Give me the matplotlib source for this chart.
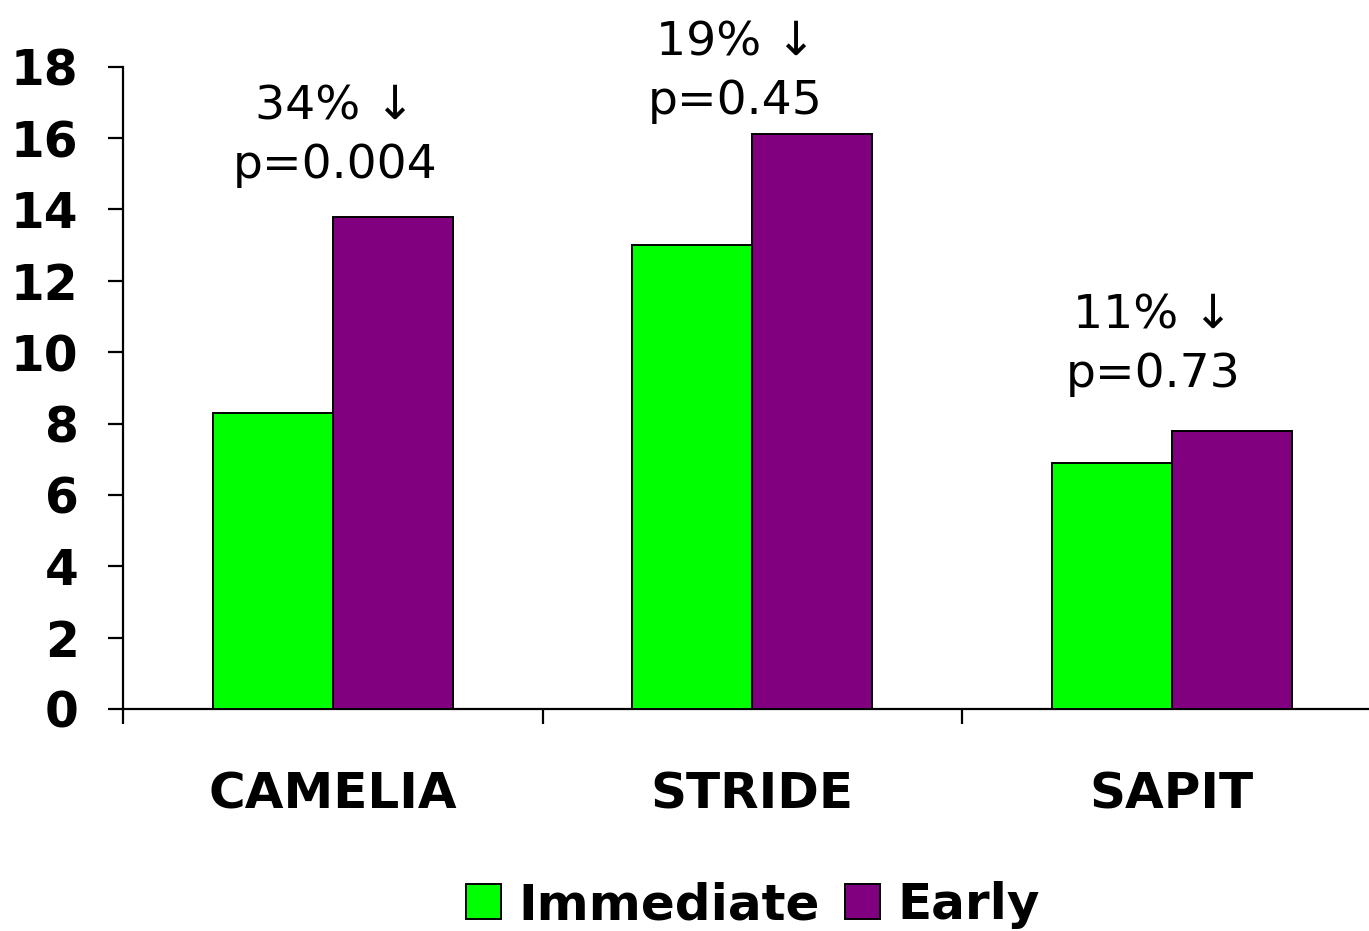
import matplotlib
matplotlib.use("Agg")
import matplotlib.pyplot as plt
import numpy as np

# Trial groups and event rates for each strategy
trials = ["CAMELIA", "STRIDE", "SAPIT"]
immediate = [8.3, 13.0, 6.9]
early = [13.8, 16.1, 7.8]
series_names = ["Immediate", "Early"]

# Relative reduction and p-value shown above each trial
reductions = ["34% \u2193", "19% \u2193", "11% \u2193"]
p_values = ["p=0.004", "p=0.45", "p=0.73"]
note_y = [14.88, 16.67, 9.03]
note_dx = [0.005, -0.04, -0.045]

y_ticks = [0, 2, 4, 6, 8, 10, 12, 14, 16, 18]

GREEN = "#00FF00"
PURPLE = "#800080"

plt.rcParams["font.family"] = ["DejaVu Sans"]

fig = plt.figure(figsize=(13.69, 9.31), dpi=100)
ax = fig.add_axes([123 / 1369, 222 / 931, 1258.5 / 1369, 642.3 / 931])

x = np.arange(len(trials))
w = 0.286
ax.bar(x - w / 2, immediate, width=w, color=GREEN, edgecolor="black",
       linewidth=1.4, label=series_names[0], zorder=3)
ax.bar(x + w / 2, early, width=w, color=PURPLE, edgecolor="black",
       linewidth=1.4, label=series_names[1], zorder=3)

ax.set_xlim(-0.5, len(trials) - 0.5)
ax.set_ylim(0, 18)

for side in ("top", "right"):
    ax.spines[side].set_visible(False)
for side in ("left", "bottom"):
    ax.spines[side].set_linewidth(1.6)

ax.set_yticks(y_ticks)
ax.set_yticklabels([str(t) for t in y_ticks], fontsize=35, fontweight="bold")
ax.tick_params(axis="y", direction="out", length=11, width=1.6, pad=21)

# Boundary ticks between groups, group names as minor labels
ax.set_xticks(np.arange(len(trials) + 1) - 0.5)
ax.set_xticklabels([])
ax.tick_params(axis="x", which="major", direction="out", length=11, width=1.6)
ax.set_xticks(x, minor=True)
ax.set_xticklabels(trials, minor=True, fontsize=36, fontweight="bold")
ax.tick_params(axis="x", which="minor", length=0, pad=44)

for xi, dx, yv, r, p in zip(x, note_dx, note_y, reductions, p_values):
    ax.text(xi + dx, yv, f"{r}\n{p}", ha="center", va="baseline",
            fontsize=34, linespacing=1.38, clip_on=False)

fig.legend(loc="center", bbox_to_anchor=(753 / 1369, 1 - 905 / 931),
           ncol=2, frameon=False, prop={"size": 36, "weight": "bold"},
           handlelength=0.7, handleheight=0.7, handletextpad=0.35,
           columnspacing=0.5, borderpad=0)

fig.savefig("out.png", dpi=100, facecolor="white")
